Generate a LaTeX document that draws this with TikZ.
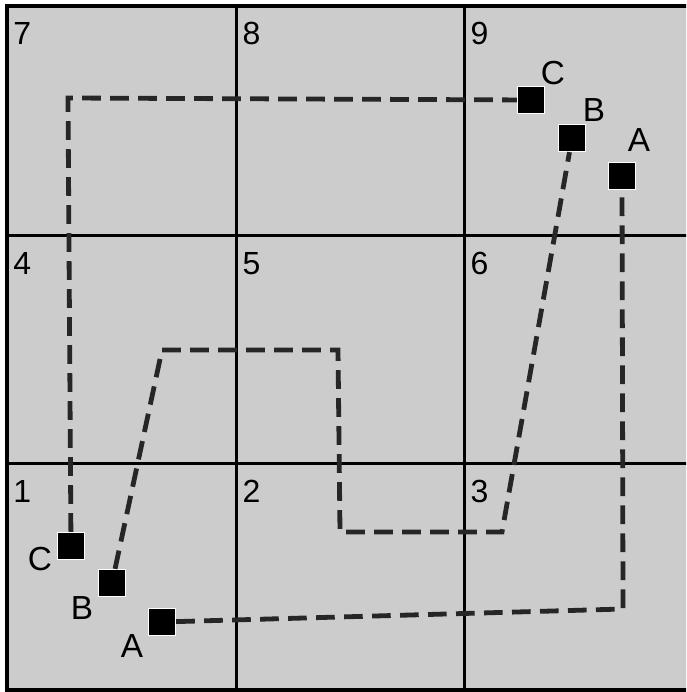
\documentclass[tikz,border=0pt]{standalone}
\usepackage{fontspec}
\setmainfont{Liberation Sans}

\begin{document}
\begin{tikzpicture}[x=0.75pt, y=-0.75pt, line width=2.25pt,
  box/.style={fill=black, draw=white, line width=1.2pt, inner sep=0pt, minimum size=20pt},
  route/.style={draw=black!85, line width=3.6pt, dash pattern=on 14pt off 7pt},
  lbl/.style={font=\fontsize{25}{25}\selectfont, inner sep=0pt},
  num/.style={font=\fontsize{24}{24}\selectfont, inner sep=0pt, anchor=base west}]
  \useasboundingbox (0,0) rectangle (686,692);
  \clip (0,0) rectangle (686,692);
  % 바탕과 칸
  \fill[gray!40] (7,6) rectangle (692,690);
  \foreach \x in {236, 464} { \draw (\x,6) -- (\x,690); }
  \foreach \y in {235, 463} { \draw (7,\y) -- (692,\y); }
  \draw[line width=3pt] (7,6) rectangle (692,690);
  % 칸 번호 — 아래 줄부터 1, 2, 3
  \foreach \n/\x/\y in {1/7/463, 2/236/463, 3/464/463, 4/7/235, 5/236/235,
                        6/464/235, 7/7/6, 8/236/6, 9/464/6} {
    \node[num] (n\n) at (\x+5,\y+39) {\n};
  }
  % 네모 — 1번 칸과 9번 칸
  \node[box] (a1) at (162,622) {};
  \node[box] (b1) at (112,583) {};
  \node[box] (c1) at (71,546) {};
  \node[box] (a9) at (622,176) {};
  \node[box] (b9) at (572,138) {};
  \node[box] (c9) at (531,100) {};
  \node[lbl] (la1) at (132,646) {A};
  \node[lbl] (lb1) at (82,608) {B};
  \node[lbl] (lc1) at (40,559) {C};
  \node[lbl] (la9) at (639,140) {A};
  \node[lbl] (lb9) at (594,110) {B};
  \node[lbl] (lc9) at (553,73) {C};
  % 꺾이는 점
  \coordinate (ka) at (623,609);
  \coordinate (kb1) at (162,350);
  \coordinate (kb2) at (338,350);
  \coordinate (kb3) at (340,532);
  \coordinate (kb4) at (502,532);
  \coordinate (kc) at (68,98);
  % 점선 길
  \draw[route] (a1) -- (ka) -- (a9);
  \draw[route] (b1) -- (kb1) -- (kb2) -- (kb3) -- (kb4) -- (b9);
  \draw[route] (c1) -- (kc) -- (c9);
\end{tikzpicture}
\end{document}
